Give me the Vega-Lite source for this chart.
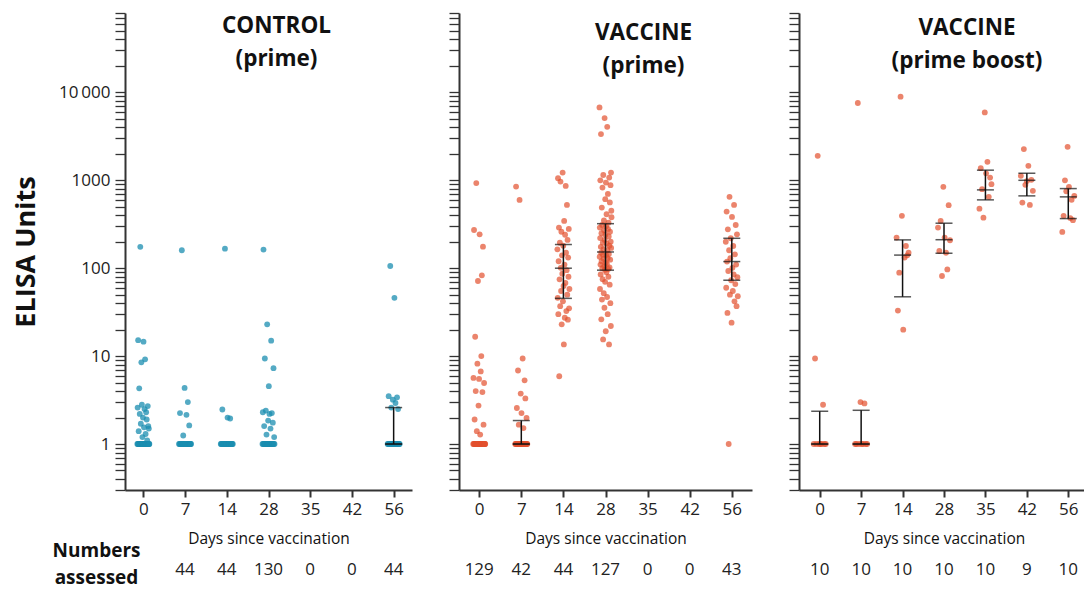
{
"$schema":"https://vega.github.io/schema/vega-lite/v6.json",
"padding":{"left":12,"top":4,"right":0,"bottom":8},
"background":"white",
"config":{
 "view":{"stroke":null},
 "font":"Open Sans",
 "axis":{"grid":false,"domainColor":"#333","tickColor":"#333","labelColor":"#222","titleColor":"#111","labelFont":"Open Sans","titleFont":"Open Sans"},
 "title":{"font":"Open Sans","fontSize":22.5,"fontWeight":"bold","color":"#111","lineHeight":33,"anchor":"middle","frame":"group"}
},
"datasets":{
"pts":[
{"arm":"C","day":0,"elisa":1},{"arm":"C","day":0,"elisa":2.6},{"arm":"C","day":0,"elisa":1},{"arm":"C","day":0,"elisa":15.2},{"arm":"C","day":0,"elisa":1},{"arm":"C","day":0,"elisa":1.4},{"arm":"C","day":0,"elisa":1},{"arm":"C","day":0,"elisa":4.3},{"arm":"C","day":0,"elisa":1},{"arm":"C","day":0,"elisa":2.2},{"arm":"C","day":0,"elisa":1},{"arm":"C","day":0,"elisa":175},{"arm":"C","day":0,"elisa":1},{"arm":"C","day":0,"elisa":1.7},{"arm":"C","day":0,"elisa":1},{"arm":"C","day":0,"elisa":8.5},{"arm":"C","day":0,"elisa":1},{"arm":"C","day":0,"elisa":2.8},{"arm":"C","day":0,"elisa":1},{"arm":"C","day":0,"elisa":1.2},{"arm":"C","day":0,"elisa":1},{"arm":"C","day":0,"elisa":2.0},{"arm":"C","day":0,"elisa":1},{"arm":"C","day":0,"elisa":14.6},{"arm":"C","day":0,"elisa":1},{"arm":"C","day":0,"elisa":1.55},{"arm":"C","day":0,"elisa":1},{"arm":"C","day":0,"elisa":2.5},{"arm":"C","day":0,"elisa":1},{"arm":"C","day":0,"elisa":9.2},{"arm":"C","day":0,"elisa":1},{"arm":"C","day":0,"elisa":1.3},{"arm":"C","day":0,"elisa":1},{"arm":"C","day":0,"elisa":2.3},{"arm":"C","day":0,"elisa":1},{"arm":"C","day":0,"elisa":1.9},{"arm":"C","day":0,"elisa":1},{"arm":"C","day":0,"elisa":1.1},{"arm":"C","day":0,"elisa":1},{"arm":"C","day":0,"elisa":2.7},{"arm":"C","day":0,"elisa":1},{"arm":"C","day":0,"elisa":1.6},{"arm":"C","day":0,"elisa":1},{"arm":"C","day":0,"elisa":1.5},{"arm":"C","day":0,"elisa":1},{"arm":"C","day":0,"elisa":1},
{"arm":"C","day":7,"elisa":1},{"arm":"C","day":7,"elisa":1},{"arm":"C","day":7,"elisa":2.25},{"arm":"C","day":7,"elisa":1},{"arm":"C","day":7,"elisa":1},{"arm":"C","day":7,"elisa":1},{"arm":"C","day":7,"elisa":160},{"arm":"C","day":7,"elisa":1},{"arm":"C","day":7,"elisa":1},{"arm":"C","day":7,"elisa":1.25},{"arm":"C","day":7,"elisa":1},{"arm":"C","day":7,"elisa":1},{"arm":"C","day":7,"elisa":4.35},{"arm":"C","day":7,"elisa":1},{"arm":"C","day":7,"elisa":1},{"arm":"C","day":7,"elisa":1},{"arm":"C","day":7,"elisa":2.15},{"arm":"C","day":7,"elisa":1},{"arm":"C","day":7,"elisa":1},{"arm":"C","day":7,"elisa":3.0},{"arm":"C","day":7,"elisa":1},{"arm":"C","day":7,"elisa":1},{"arm":"C","day":7,"elisa":1.63},{"arm":"C","day":7,"elisa":1},{"arm":"C","day":7,"elisa":1},{"arm":"C","day":7,"elisa":1},{"arm":"C","day":7,"elisa":1},
{"arm":"C","day":14,"elisa":1},{"arm":"C","day":14,"elisa":1},{"arm":"C","day":14,"elisa":1},{"arm":"C","day":14,"elisa":2.47},{"arm":"C","day":14,"elisa":1},{"arm":"C","day":14,"elisa":1},{"arm":"C","day":14,"elisa":1},{"arm":"C","day":14,"elisa":1},{"arm":"C","day":14,"elisa":167},{"arm":"C","day":14,"elisa":1},{"arm":"C","day":14,"elisa":1},{"arm":"C","day":14,"elisa":1},{"arm":"C","day":14,"elisa":1},{"arm":"C","day":14,"elisa":2.0},{"arm":"C","day":14,"elisa":1},{"arm":"C","day":14,"elisa":1},{"arm":"C","day":14,"elisa":1},{"arm":"C","day":14,"elisa":1},{"arm":"C","day":14,"elisa":1.95},{"arm":"C","day":14,"elisa":1},{"arm":"C","day":14,"elisa":1},{"arm":"C","day":14,"elisa":1},{"arm":"C","day":14,"elisa":1},{"arm":"C","day":14,"elisa":1},
{"arm":"C","day":28,"elisa":1},{"arm":"C","day":28,"elisa":2.3},{"arm":"C","day":28,"elisa":1},{"arm":"C","day":28,"elisa":163},{"arm":"C","day":28,"elisa":1},{"arm":"C","day":28,"elisa":1.6},{"arm":"C","day":28,"elisa":1},{"arm":"C","day":28,"elisa":9.4},{"arm":"C","day":28,"elisa":1},{"arm":"C","day":28,"elisa":1},{"arm":"C","day":28,"elisa":2.4},{"arm":"C","day":28,"elisa":1},{"arm":"C","day":28,"elisa":1.28},{"arm":"C","day":28,"elisa":1},{"arm":"C","day":28,"elisa":23},{"arm":"C","day":28,"elisa":1},{"arm":"C","day":28,"elisa":1},{"arm":"C","day":28,"elisa":1.85},{"arm":"C","day":28,"elisa":1},{"arm":"C","day":28,"elisa":4.55},{"arm":"C","day":28,"elisa":1},{"arm":"C","day":28,"elisa":2.2},{"arm":"C","day":28,"elisa":1},{"arm":"C","day":28,"elisa":1},{"arm":"C","day":28,"elisa":1.5},{"arm":"C","day":28,"elisa":1},{"arm":"C","day":28,"elisa":15},{"arm":"C","day":28,"elisa":1},{"arm":"C","day":28,"elisa":2.25},{"arm":"C","day":28,"elisa":1},{"arm":"C","day":28,"elisa":1},{"arm":"C","day":28,"elisa":1.75},{"arm":"C","day":28,"elisa":1},{"arm":"C","day":28,"elisa":7.3},{"arm":"C","day":28,"elisa":1},{"arm":"C","day":28,"elisa":1.2},{"arm":"C","day":28,"elisa":1},
{"arm":"C","day":56,"elisa":1},{"arm":"C","day":56,"elisa":1},{"arm":"C","day":56,"elisa":3.5},{"arm":"C","day":56,"elisa":1},{"arm":"C","day":56,"elisa":1},{"arm":"C","day":56,"elisa":106},{"arm":"C","day":56,"elisa":1},{"arm":"C","day":56,"elisa":2.6},{"arm":"C","day":56,"elisa":1},{"arm":"C","day":56,"elisa":1},{"arm":"C","day":56,"elisa":3.2},{"arm":"C","day":56,"elisa":1},{"arm":"C","day":56,"elisa":1},{"arm":"C","day":56,"elisa":46},{"arm":"C","day":56,"elisa":1},{"arm":"C","day":56,"elisa":2.93},{"arm":"C","day":56,"elisa":1},{"arm":"C","day":56,"elisa":1},{"arm":"C","day":56,"elisa":3.4},{"arm":"C","day":56,"elisa":1},{"arm":"C","day":56,"elisa":2.5},{"arm":"C","day":56,"elisa":1},{"arm":"C","day":56,"elisa":1},{"arm":"C","day":56,"elisa":1},
{"arm":"P","day":0,"elisa":1},{"arm":"P","day":0,"elisa":5.65},{"arm":"P","day":0,"elisa":1},{"arm":"P","day":0,"elisa":272},{"arm":"P","day":0,"elisa":1},{"arm":"P","day":0,"elisa":1.9},{"arm":"P","day":0,"elisa":1},{"arm":"P","day":0,"elisa":16.6},{"arm":"P","day":0,"elisa":1},{"arm":"P","day":0,"elisa":4.0},{"arm":"P","day":0,"elisa":1},{"arm":"P","day":0,"elisa":930},{"arm":"P","day":0,"elisa":1},{"arm":"P","day":0,"elisa":1.4},{"arm":"P","day":0,"elisa":1},{"arm":"P","day":0,"elisa":8.2},{"arm":"P","day":0,"elisa":1},{"arm":"P","day":0,"elisa":71.5},{"arm":"P","day":0,"elisa":1},{"arm":"P","day":0,"elisa":2.74},{"arm":"P","day":0,"elisa":1},{"arm":"P","day":0,"elisa":5.5},{"arm":"P","day":0,"elisa":1},{"arm":"P","day":0,"elisa":243},{"arm":"P","day":0,"elisa":1},{"arm":"P","day":0,"elisa":1.28},{"arm":"P","day":0,"elisa":1},{"arm":"P","day":0,"elisa":6.7},{"arm":"P","day":0,"elisa":1},{"arm":"P","day":0,"elisa":10},{"arm":"P","day":0,"elisa":1},{"arm":"P","day":0,"elisa":83},{"arm":"P","day":0,"elisa":1},{"arm":"P","day":0,"elisa":3.9},{"arm":"P","day":0,"elisa":1},{"arm":"P","day":0,"elisa":176},{"arm":"P","day":0,"elisa":1},{"arm":"P","day":0,"elisa":1.66},{"arm":"P","day":0,"elisa":1},{"arm":"P","day":0,"elisa":4.95},{"arm":"P","day":0,"elisa":1},{"arm":"P","day":0,"elisa":1},{"arm":"P","day":0,"elisa":1},{"arm":"P","day":0,"elisa":1},
{"arm":"P","day":7,"elisa":1},{"arm":"P","day":7,"elisa":1},{"arm":"P","day":7,"elisa":849},{"arm":"P","day":7,"elisa":1},{"arm":"P","day":7,"elisa":2.57},{"arm":"P","day":7,"elisa":1},{"arm":"P","day":7,"elisa":1},{"arm":"P","day":7,"elisa":6.86},{"arm":"P","day":7,"elisa":1},{"arm":"P","day":7,"elisa":1.66},{"arm":"P","day":7,"elisa":1},{"arm":"P","day":7,"elisa":598},{"arm":"P","day":7,"elisa":1},{"arm":"P","day":7,"elisa":1},{"arm":"P","day":7,"elisa":3.75},{"arm":"P","day":7,"elisa":1},{"arm":"P","day":7,"elisa":2.25},{"arm":"P","day":7,"elisa":1},{"arm":"P","day":7,"elisa":1},{"arm":"P","day":7,"elisa":9.4},{"arm":"P","day":7,"elisa":1},{"arm":"P","day":7,"elisa":1.52},{"arm":"P","day":7,"elisa":1},{"arm":"P","day":7,"elisa":1},{"arm":"P","day":7,"elisa":5.3},{"arm":"P","day":7,"elisa":1},{"arm":"P","day":7,"elisa":3.3},{"arm":"P","day":7,"elisa":1},{"arm":"P","day":7,"elisa":1},{"arm":"P","day":7,"elisa":1.98},{"arm":"P","day":7,"elisa":1},{"arm":"P","day":7,"elisa":1},
{"arm":"P","day":14,"elisa":164},{"arm":"P","day":14,"elisa":46},{"arm":"P","day":14,"elisa":1057},{"arm":"P","day":14,"elisa":30},{"arm":"P","day":14,"elisa":120},{"arm":"P","day":14,"elisa":290},{"arm":"P","day":14,"elisa":5.9},{"arm":"P","day":14,"elisa":74.7},{"arm":"P","day":14,"elisa":195},{"arm":"P","day":14,"elisa":37},{"arm":"P","day":14,"elisa":968},{"arm":"P","day":14,"elisa":101},{"arm":"P","day":14,"elisa":55},{"arm":"P","day":14,"elisa":260},{"arm":"P","day":14,"elisa":23},{"arm":"P","day":14,"elisa":140},{"arm":"P","day":14,"elisa":86.5},{"arm":"P","day":14,"elisa":1225},{"arm":"P","day":14,"elisa":42},{"arm":"P","day":14,"elisa":180},{"arm":"P","day":14,"elisa":62.7},{"arm":"P","day":14,"elisa":13.6},{"arm":"P","day":14,"elisa":345},{"arm":"P","day":14,"elisa":110},{"arm":"P","day":14,"elisa":27.3},{"arm":"P","day":14,"elisa":240},{"arm":"P","day":14,"elisa":68},{"arm":"P","day":14,"elisa":864},{"arm":"P","day":14,"elisa":150},{"arm":"P","day":14,"elisa":32.5},{"arm":"P","day":14,"elisa":95},{"arm":"P","day":14,"elisa":525},{"arm":"P","day":14,"elisa":50},{"arm":"P","day":14,"elisa":210},{"arm":"P","day":14,"elisa":26},{"arm":"P","day":14,"elisa":132},{"arm":"P","day":14,"elisa":80},{"arm":"P","day":14,"elisa":280},{"arm":"P","day":14,"elisa":35},{"arm":"P","day":14,"elisa":58},
{"arm":"P","day":28,"elisa":6745},{"arm":"P","day":28,"elisa":135},{"arm":"P","day":28,"elisa":290},{"arm":"P","day":28,"elisa":58},{"arm":"P","day":28,"elisa":220},{"arm":"P","day":28,"elisa":1000},{"arm":"P","day":28,"elisa":110},{"arm":"P","day":28,"elisa":85},{"arm":"P","day":28,"elisa":175},{"arm":"P","day":28,"elisa":3357},{"arm":"P","day":28,"elisa":150},{"arm":"P","day":28,"elisa":26.2},{"arm":"P","day":28,"elisa":250},{"arm":"P","day":28,"elisa":120},{"arm":"P","day":28,"elisa":489},{"arm":"P","day":28,"elisa":44},{"arm":"P","day":28,"elisa":310},{"arm":"P","day":28,"elisa":100},{"arm":"P","day":28,"elisa":827},{"arm":"P","day":28,"elisa":75},{"arm":"P","day":28,"elisa":195},{"arm":"P","day":28,"elisa":142},{"arm":"P","day":28,"elisa":15.5},{"arm":"P","day":28,"elisa":1150},{"arm":"P","day":28,"elisa":165},{"arm":"P","day":28,"elisa":128},{"arm":"P","day":28,"elisa":52},{"arm":"P","day":28,"elisa":350},{"arm":"P","day":28,"elisa":270},{"arm":"P","day":28,"elisa":105},{"arm":"P","day":28,"elisa":35.5},{"arm":"P","day":28,"elisa":5100},{"arm":"P","day":28,"elisa":210},{"arm":"P","day":28,"elisa":96},{"arm":"P","day":28,"elisa":70},{"arm":"P","day":28,"elisa":610},{"arm":"P","day":28,"elisa":240},{"arm":"P","day":28,"elisa":115},{"arm":"P","day":28,"elisa":19.2},{"arm":"P","day":28,"elisa":943},{"arm":"P","day":28,"elisa":300},{"arm":"P","day":28,"elisa":140},{"arm":"P","day":28,"elisa":90},{"arm":"P","day":28,"elisa":411},{"arm":"P","day":28,"elisa":190},{"arm":"P","day":28,"elisa":112},{"arm":"P","day":28,"elisa":47},{"arm":"P","day":28,"elisa":4060},{"arm":"P","day":28,"elisa":160},{"arm":"P","day":28,"elisa":130},{"arm":"P","day":28,"elisa":30},{"arm":"P","day":28,"elisa":700},{"arm":"P","day":28,"elisa":280},{"arm":"P","day":28,"elisa":98},{"arm":"P","day":28,"elisa":80},{"arm":"P","day":28,"elisa":330},{"arm":"P","day":28,"elisa":230},{"arm":"P","day":28,"elisa":145},{"arm":"P","day":28,"elisa":13.6},{"arm":"P","day":28,"elisa":1075},{"arm":"P","day":28,"elisa":180},{"arm":"P","day":28,"elisa":102},{"arm":"P","day":28,"elisa":65},{"arm":"P","day":28,"elisa":560},{"arm":"P","day":28,"elisa":260},{"arm":"P","day":28,"elisa":125},{"arm":"P","day":28,"elisa":40},{"arm":"P","day":28,"elisa":880},{"arm":"P","day":28,"elisa":200},{"arm":"P","day":28,"elisa":22},{"arm":"P","day":28,"elisa":1225},{"arm":"P","day":28,"elisa":170},{"arm":"P","day":28,"elisa":450},{"arm":"P","day":28,"elisa":380},
{"arm":"P","day":56,"elisa":200},{"arm":"P","day":56,"elisa":60},{"arm":"P","day":56,"elisa":441},{"arm":"P","day":56,"elisa":119},{"arm":"P","day":56,"elisa":31},{"arm":"P","day":56,"elisa":277},{"arm":"P","day":56,"elisa":93},{"arm":"P","day":56,"elisa":1},{"arm":"P","day":56,"elisa":160},{"arm":"P","day":56,"elisa":648},{"arm":"P","day":56,"elisa":50},{"arm":"P","day":56,"elisa":130},{"arm":"P","day":56,"elisa":219},{"arm":"P","day":56,"elisa":73},{"arm":"P","day":56,"elisa":24},{"arm":"P","day":56,"elisa":383},{"arm":"P","day":56,"elisa":101},{"arm":"P","day":56,"elisa":55},{"arm":"P","day":56,"elisa":179},{"arm":"P","day":56,"elisa":85},{"arm":"P","day":56,"elisa":525},{"arm":"P","day":56,"elisa":42},{"arm":"P","day":56,"elisa":144},{"arm":"P","day":56,"elisa":66},{"arm":"P","day":56,"elisa":310},{"arm":"P","day":56,"elisa":110},{"arm":"P","day":56,"elisa":37},{"arm":"P","day":56,"elisa":243},{"arm":"P","day":56,"elisa":79},{"arm":"P","day":56,"elisa":48},
{"arm":"B","day":0,"elisa":1},{"arm":"B","day":0,"elisa":9.4},{"arm":"B","day":0,"elisa":1},{"arm":"B","day":0,"elisa":1900},{"arm":"B","day":0,"elisa":1},{"arm":"B","day":0,"elisa":1},{"arm":"B","day":0,"elisa":1},{"arm":"B","day":0,"elisa":2.8},{"arm":"B","day":0,"elisa":1},{"arm":"B","day":0,"elisa":1},
{"arm":"B","day":7,"elisa":1},{"arm":"B","day":7,"elisa":1},{"arm":"B","day":7,"elisa":7570},{"arm":"B","day":7,"elisa":1},{"arm":"B","day":7,"elisa":3.0},{"arm":"B","day":7,"elisa":1},{"arm":"B","day":7,"elisa":1},{"arm":"B","day":7,"elisa":2.9},{"arm":"B","day":7,"elisa":1},{"arm":"B","day":7,"elisa":1},
{"arm":"B","day":14,"elisa":223},{"arm":"B","day":14,"elisa":33},{"arm":"B","day":14,"elisa":89},{"arm":"B","day":14,"elisa":8940},{"arm":"B","day":14,"elisa":394},{"arm":"B","day":14,"elisa":20},{"arm":"B","day":14,"elisa":132},{"arm":"B","day":14,"elisa":179},{"arm":"B","day":14,"elisa":140},{"arm":"B","day":14,"elisa":150},
{"arm":"B","day":28,"elisa":290},{"arm":"B","day":28,"elisa":157},{"arm":"B","day":28,"elisa":345},{"arm":"B","day":28,"elisa":81.5},{"arm":"B","day":28,"elisa":842},{"arm":"B","day":28,"elisa":223},{"arm":"B","day":28,"elisa":150},{"arm":"B","day":28,"elisa":97},{"arm":"B","day":28,"elisa":521},{"arm":"B","day":28,"elisa":208},
{"arm":"B","day":35,"elisa":476},{"arm":"B","day":35,"elisa":1375},{"arm":"B","day":35,"elisa":793},{"arm":"B","day":35,"elisa":376},{"arm":"B","day":35,"elisa":5915},{"arm":"B","day":35,"elisa":1200},{"arm":"B","day":35,"elisa":1623},{"arm":"B","day":35,"elisa":648},{"arm":"B","day":35,"elisa":1075},{"arm":"B","day":35,"elisa":904},
{"arm":"B","day":42,"elisa":1125},{"arm":"B","day":42,"elisa":558},{"arm":"B","day":42,"elisa":2265},{"arm":"B","day":42,"elisa":888},{"arm":"B","day":42,"elisa":980},{"arm":"B","day":42,"elisa":1462},{"arm":"B","day":42,"elisa":525},{"arm":"B","day":42,"elisa":1012},{"arm":"B","day":42,"elisa":759},
{"arm":"B","day":56,"elisa":259},{"arm":"B","day":56,"elisa":394},{"arm":"B","day":56,"elisa":1000},{"arm":"B","day":56,"elisa":750},{"arm":"B","day":56,"elisa":2404},{"arm":"B","day":56,"elisa":842},{"arm":"B","day":56,"elisa":372},{"arm":"B","day":56,"elisa":600},{"arm":"B","day":56,"elisa":352},{"arm":"B","day":56,"elisa":665}
],
"stats":[
{"arm":"C","day":56,"q1":1,"median":1,"q3":2.6},
{"arm":"P","day":7,"q1":1,"median":1,"q3":1.85},
{"arm":"P","day":14,"q1":45.4,"median":100,"q3":186},
{"arm":"P","day":28,"q1":95,"median":153,"q3":321},
{"arm":"P","day":56,"q1":73,"median":119,"q3":219},
{"arm":"B","day":0,"q1":1,"median":1,"q3":2.36},
{"arm":"B","day":7,"q1":1,"median":1,"q3":2.42},
{"arm":"B","day":14,"q1":47.3,"median":141,"q3":210},
{"arm":"B","day":28,"q1":148,"median":211,"q3":325},
{"arm":"B","day":35,"q1":599,"median":778,"q3":1304},
{"arm":"B","day":42,"q1":665,"median":1000,"q3":1203},
{"arm":"B","day":56,"q1":367,"median":648,"q3":805}
],
"counts":[
{"arm":"C","day":7,"n":44,"row":"Numbers assessed"},{"arm":"C","day":14,"n":44,"row":"Numbers assessed"},{"arm":"C","day":28,"n":130,"row":"Numbers assessed"},{"arm":"C","day":35,"n":0,"row":"Numbers assessed"},{"arm":"C","day":42,"n":0,"row":"Numbers assessed"},{"arm":"C","day":56,"n":44,"row":"Numbers assessed"},
{"arm":"P","day":0,"n":129,"row":"Numbers assessed"},{"arm":"P","day":7,"n":42,"row":"Numbers assessed"},{"arm":"P","day":14,"n":44,"row":"Numbers assessed"},{"arm":"P","day":28,"n":127,"row":"Numbers assessed"},{"arm":"P","day":35,"n":0,"row":"Numbers assessed"},{"arm":"P","day":42,"n":0,"row":"Numbers assessed"},{"arm":"P","day":56,"n":43,"row":"Numbers assessed"},
{"arm":"B","day":0,"n":10,"row":"Numbers assessed"},{"arm":"B","day":7,"n":10,"row":"Numbers assessed"},{"arm":"B","day":14,"n":10,"row":"Numbers assessed"},{"arm":"B","day":28,"n":10,"row":"Numbers assessed"},{"arm":"B","day":35,"n":10,"row":"Numbers assessed"},{"arm":"B","day":42,"n":9,"row":"Numbers assessed"},{"arm":"B","day":56,"n":10,"row":"Numbers assessed"}
]
},
"columns":3,
"align":"each",
"bounds":"flush",
"spacing":{"column":47,"row":65},
"concat":[
{
 "width":287,"height":477,
 "title":{"text":["CONTROL","(prime)"],"offset":-66,"dx":8},
 "encoding":{"x":{"field":"day","type":"ordinal","scale":{"type":"point","domain":[0,7,14,28,35,42,56],"padding":0.44},"axis":{"title":"Days since vaccination","labelAngle":0,"labelFontSize":17,"labelPadding":4,"tickSize":7,"tickWidth":2,"domainWidth":2,"titleFontSize":15.5,"titleFontWeight":"normal","titlePadding":14}}},
 "layer":[
  {"data":{"name":"pts"},
   "transform":[{"filter":"datum.arm=='C'"},{"window":[{"op":"row_number","as":"k"}]},{"window":[{"op":"percent_rank","as":"jit"}],"sort":[{"field":"k","order":"ascending"}],"groupby":["day"]}],
   "mark":{"type":"circle","size":34,"color":"#1b8db0","opacity":0.75},
   "encoding":{
    "xOffset":{"field":"jit","type":"quantitative","scale":{"domain":[0,1],"range":[-6,6]}},
    "y":{"field":"elisa","type":"quantitative","title":"ELISA Units","scale":{"type":"log","domain":[0.3,80000],"nice":false},
     "axis":{"title":"ELISA Units","values":[0.3,0.4,0.5,0.6,0.7,0.8,0.9,1,2,3,4,5,6,7,8,9,10,20,30,40,50,60,70,80,90,100,200,300,400,500,600,700,800,900,1000,2000,3000,4000,5000,6000,7000,8000,9000,10000,20000,30000,40000,50000,60000,70000,80000],
      "labelExpr":"datum.value==10000?'10\u2009000':((datum.value==1||datum.value==10||datum.value==100||datum.value==1000)?''+datum.value:'')",
      "tickSize":10,"tickWidth":1.3,"domainWidth":2,"labelFontSize":17,"labelPadding":5,"labelOverlap":false,"labelFlush":false,"titleFontSize":27,"titleFontWeight":"bold","titlePadding":18}}}},
  {"data":{"name":"stats"},"transform":[{"filter":"datum.arm=='C'"}],
   "mark":{"type":"rule","color":"#111","strokeWidth":1.5},
   "encoding":{"y":{"field":"q1","type":"quantitative","title":"ELISA Units"},"y2":{"field":"q3"}}},
  {"data":{"name":"stats"},"transform":[{"filter":"datum.arm=='C'"},{"fold":["q1","median","q3"],"as":["stat","val"]}],
   "mark":{"type":"tick","color":"#111","size":17,"thickness":1.5},
   "encoding":{"y":{"field":"val","type":"quantitative","title":"ELISA Units"}}}
 ]
},
{
 "width":293,"height":477,
 "title":{"text":["VACCINE","(prime)"],"offset":-65,"dx":38},
 "encoding":{"x":{"field":"day","type":"ordinal","scale":{"type":"point","domain":[0,7,14,28,35,42,56],"padding":0.48},"axis":{"title":"Days since vaccination","labelAngle":0,"labelFontSize":17,"labelPadding":4,"tickSize":7,"tickWidth":2,"domainWidth":2,"titleFontSize":15.5,"titleFontWeight":"normal","titlePadding":14}}},
 "layer":[
  {"data":{"name":"pts"},
   "transform":[{"filter":"datum.arm=='P'"},{"window":[{"op":"row_number","as":"k"}]},{"window":[{"op":"percent_rank","as":"jit"}],"sort":[{"field":"k","order":"ascending"}],"groupby":["day"]}],
   "mark":{"type":"circle","size":34,"color":"#e2502e","opacity":0.7},
   "encoding":{
    "xOffset":{"field":"jit","type":"quantitative","scale":{"domain":[0,1],"range":[-6,6]}},
    "y":{"field":"elisa","type":"quantitative","title":null,"scale":{"type":"log","domain":[0.3,80000],"nice":false},
     "axis":{"title":null,"values":[0.3,0.4,0.5,0.6,0.7,0.8,0.9,1,2,3,4,5,6,7,8,9,10,20,30,40,50,60,70,80,90,100,200,300,400,500,600,700,800,900,1000,2000,3000,4000,5000,6000,7000,8000,9000,10000,20000,30000,40000,50000,60000,70000,80000],
      "labels":false,"tickSize":10,"tickWidth":1.3,"domainWidth":2}}}},
  {"data":{"name":"stats"},"transform":[{"filter":"datum.arm=='P'"}],
   "mark":{"type":"rule","color":"#111","strokeWidth":1.5},
   "encoding":{"y":{"field":"q1","type":"quantitative","title":null},"y2":{"field":"q3"}}},
  {"data":{"name":"stats"},"transform":[{"filter":"datum.arm=='P'"},{"fold":["q1","median","q3"],"as":["stat","val"]}],
   "mark":{"type":"tick","color":"#111","size":17,"thickness":1.5},
   "encoding":{"y":{"field":"val","type":"quantitative","title":null}}}
 ]
},
{
 "width":290,"height":477,
 "title":{"text":["VACCINE","(prime boost)"],"offset":-60,"dx":23},
 "encoding":{"x":{"field":"day","type":"ordinal","scale":{"type":"point","domain":[0,7,14,28,35,42,56],"padding":0.5},"axis":{"title":"Days since vaccination","labelAngle":0,"labelFontSize":17,"labelPadding":4,"tickSize":7,"tickWidth":2,"domainWidth":2,"titleFontSize":15.5,"titleFontWeight":"normal","titlePadding":14}}},
 "layer":[
  {"data":{"name":"pts"},
   "transform":[{"filter":"datum.arm=='B'"},{"window":[{"op":"row_number","as":"k"}]},{"window":[{"op":"percent_rank","as":"jit"}],"sort":[{"field":"k","order":"ascending"}],"groupby":["day"]}],
   "mark":{"type":"circle","size":34,"color":"#e2502e","opacity":0.7},
   "encoding":{
    "xOffset":{"field":"jit","type":"quantitative","scale":{"domain":[0,1],"range":[-5,5]}},
    "y":{"field":"elisa","type":"quantitative","title":null,"scale":{"type":"log","domain":[0.3,80000],"nice":false},
     "axis":{"title":null,"values":[0.3,0.4,0.5,0.6,0.7,0.8,0.9,1,2,3,4,5,6,7,8,9,10,20,30,40,50,60,70,80,90,100,200,300,400,500,600,700,800,900,1000,2000,3000,4000,5000,6000,7000,8000,9000,10000,20000,30000,40000,50000,60000,70000,80000],
      "labels":false,"tickSize":10,"tickWidth":1.3,"domainWidth":2}}}},
  {"data":{"name":"stats"},"transform":[{"filter":"datum.arm=='B'"}],
   "mark":{"type":"rule","color":"#111","strokeWidth":1.5},
   "encoding":{"y":{"field":"q1","type":"quantitative","title":null},"y2":{"field":"q3"}}},
  {"data":{"name":"stats"},"transform":[{"filter":"datum.arm=='B'"},{"fold":["q1","median","q3"],"as":["stat","val"]}],
   "mark":{"type":"tick","color":"#111","size":17,"thickness":1.5},
   "encoding":{"y":{"field":"val","type":"quantitative","title":null}}}
 ]
},
{
 "width":287,"height":30,
 "data":{"name":"counts"},
 "transform":[{"filter":"datum.arm=='C'"}],
 "mark":{"type":"text","font":"Open Sans","fontSize":17,"color":"#222"},
 "encoding":{
  "x":{"field":"day","type":"ordinal","scale":{"type":"point","domain":[0,7,14,28,35,42,56],"padding":0.44},"axis":null},
  "y":{"field":"row","type":"nominal","axis":{"title":["Numbers","assessed"],"titleAngle":0,"titleAlign":"center","titleBaseline":"middle","titleX":-29,"titleY":-5,"titleFontSize":19,"titleFontWeight":"bold","titleLineHeight":27,"labels":false,"ticks":false,"domain":false}},
  "text":{"field":"n","type":"quantitative"}
 }
},
{
 "width":293,"height":30,
 "data":{"name":"counts"},
 "transform":[{"filter":"datum.arm=='P'"}],
 "mark":{"type":"text","font":"Open Sans","fontSize":17,"color":"#222"},
 "encoding":{
  "x":{"field":"day","type":"ordinal","scale":{"type":"point","domain":[0,7,14,28,35,42,56],"padding":0.48},"axis":null},
  "text":{"field":"n","type":"quantitative"}
 }
},
{
 "width":290,"height":30,
 "data":{"name":"counts"},
 "transform":[{"filter":"datum.arm=='B'"}],
 "mark":{"type":"text","font":"Open Sans","fontSize":17,"color":"#222"},
 "encoding":{
  "x":{"field":"day","type":"ordinal","scale":{"type":"point","domain":[0,7,14,28,35,42,56],"padding":0.5},"axis":null},
  "text":{"field":"n","type":"quantitative"}
 }
}
]
}
